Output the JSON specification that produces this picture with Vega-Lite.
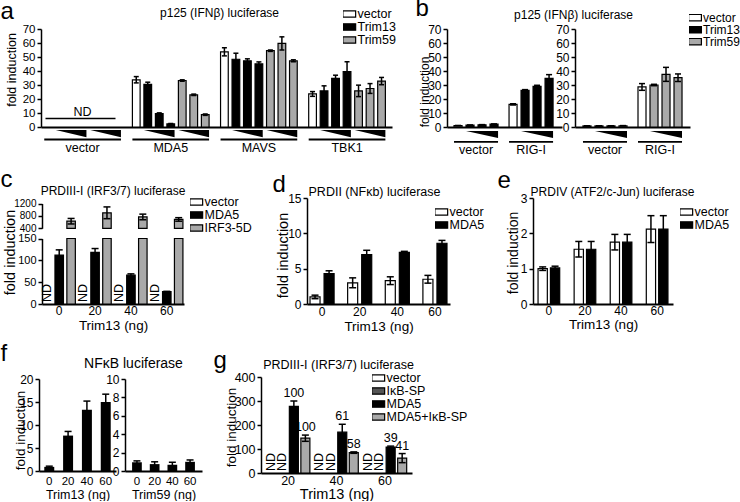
{
"$schema": "https://vega.github.io/schema/vega-lite/v6.json",
"background": "white",
"padding": {"left": 0, "top": -4, "right": 0, "bottom": 0},
"config": {
 "font": "Liberation Sans",
 "view": {"stroke": null},
 "axis": {"grid": false, "domainColor": "black", "domainWidth": 1.5, "tickColor": "black", "tickWidth": 1.5, "tickSize": 4, "labelColor": "black", "labelFontSize": 12, "titleColor": "black", "titleFontWeight": "normal", "titleFontSize": 12.5, "labelPadding": 2, "labelOverlap": false, "labelFlush": false},
 "legend": {"symbolType": "M-1.6,-0.8H1.6V0.8H-1.6Z", "symbolSize": 64, "symbolStrokeColor": "black", "symbolStrokeWidth": 1.2, "symbolOpacity": 1, "labelFontSize": 12.5, "labelColor": "black", "labelOffset": 2, "rowPadding": 0, "clipHeight": 10, "padding": 0},
 "title": {"color": "black", "fontWeight": "normal"}
},
"datasets": {
 "aBars": [
  {"grp":"MDA5","slot":"s1","trt":"vector","v":33.7,"lo":31.5,"hi":36},
  {"grp":"MDA5","slot":"s2","trt":"Trim13","v":30.5,"lo":29,"hi":32},
  {"grp":"MDA5","slot":"s3","trt":"Trim13","v":9.6,"lo":9.1,"hi":10.1},
  {"grp":"MDA5","slot":"s4","trt":"Trim13","v":2.2,"lo":1.9,"hi":2.5},
  {"grp":"MDA5","slot":"s5","trt":"Trim59","v":33.2,"lo":32.7,"hi":33.7},
  {"grp":"MDA5","slot":"s6","trt":"Trim59","v":23,"lo":22.5,"hi":23.5},
  {"grp":"MDA5","slot":"s7","trt":"Trim59","v":8.8,"lo":8.3,"hi":9.3},
  {"grp":"MAVS","slot":"s1","trt":"vector","v":53.7,"lo":50.8,"hi":56.6},
  {"grp":"MAVS","slot":"s2","trt":"Trim13","v":48.4,"lo":44.1,"hi":52.7},
  {"grp":"MAVS","slot":"s3","trt":"Trim13","v":47.3,"lo":45.9,"hi":48.7},
  {"grp":"MAVS","slot":"s4","trt":"Trim13","v":45.1,"lo":43.7,"hi":46.5},
  {"grp":"MAVS","slot":"s5","trt":"Trim59","v":54.5,"lo":54,"hi":55},
  {"grp":"MAVS","slot":"s6","trt":"Trim59","v":59.7,"lo":55,"hi":64.4},
  {"grp":"MAVS","slot":"s7","trt":"Trim59","v":47.3,"lo":46.6,"hi":48},
  {"grp":"TBK1","slot":"s1","trt":"vector","v":23.6,"lo":21.9,"hi":25.3},
  {"grp":"TBK1","slot":"s2","trt":"Trim13","v":25.8,"lo":22.2,"hi":29.4},
  {"grp":"TBK1","slot":"s3","trt":"Trim13","v":34.8,"lo":32.6,"hi":37},
  {"grp":"TBK1","slot":"s4","trt":"Trim13","v":39.6,"lo":32.6,"hi":46.6},
  {"grp":"TBK1","slot":"s5","trt":"Trim59","v":25.8,"lo":21.7,"hi":29.9},
  {"grp":"TBK1","slot":"s6","trt":"Trim59","v":27.5,"lo":24,"hi":31},
  {"grp":"TBK1","slot":"s7","trt":"Trim59","v":32.8,"lo":30.2,"hi":35.4}
 ],
 "aGroups": [{"grp":"vector"},{"grp":"MDA5"},{"grp":"MAVS"},{"grp":"TBK1"}],
 "aTri": [
  {"grp":"vector","slot":"s3"},{"grp":"vector","slot":"s6"},
  {"grp":"MDA5","slot":"s3"},{"grp":"MDA5","slot":"s6"},
  {"grp":"MAVS","slot":"s3"},{"grp":"MAVS","slot":"s6"},
  {"grp":"TBK1","slot":"s3"},{"grp":"TBK1","slot":"s6"}
 ],
 "bL": [
  {"grp":"vector","slot":"s1","trt":"vector","v":1.0,"lo":0.9,"hi":1.1},
  {"grp":"vector","slot":"s2","trt":"Trim13","v":1.3,"lo":1.2,"hi":1.4},
  {"grp":"vector","slot":"s3","trt":"Trim13","v":1.6,"lo":1.5,"hi":1.7},
  {"grp":"vector","slot":"s4","trt":"Trim13","v":2.0,"lo":1.8,"hi":2.2},
  {"grp":"RIG-I","slot":"s1","trt":"vector","v":16.2,"lo":15.8,"hi":16.6},
  {"grp":"RIG-I","slot":"s2","trt":"Trim13","v":26.2,"lo":25.7,"hi":26.7},
  {"grp":"RIG-I","slot":"s3","trt":"Trim13","v":29.0,"lo":28.2,"hi":29.8},
  {"grp":"RIG-I","slot":"s4","trt":"Trim13","v":34.8,"lo":32.2,"hi":37.4}
 ],
 "bR": [
  {"grp":"vector","slot":"s1","trt":"vector","v":0.8,"lo":0.7,"hi":0.9},
  {"grp":"vector","slot":"s2","trt":"Trim59","v":0.8,"lo":0.7,"hi":0.9},
  {"grp":"vector","slot":"s3","trt":"Trim59","v":0.8,"lo":0.7,"hi":0.9},
  {"grp":"vector","slot":"s4","trt":"Trim59","v":0.9,"lo":0.8,"hi":1.0},
  {"grp":"RIG-I","slot":"s1","trt":"vector","v":28.6,"lo":26.2,"hi":31},
  {"grp":"RIG-I","slot":"s2","trt":"Trim59","v":30,"lo":29.5,"hi":30.5},
  {"grp":"RIG-I","slot":"s3","trt":"Trim59","v":37.6,"lo":32.6,"hi":42.6},
  {"grp":"RIG-I","slot":"s4","trt":"Trim59","v":35.2,"lo":32.5,"hi":37.9}
 ],
 "bGroups": [{"grp":"vector"},{"grp":"RIG-I"}],
 "bTri": [{"grp":"vector","slot":"s3"},{"grp":"RIG-I","slot":"s3"}],
 "c": [
  {"ng":"0","trt":"MDA5","v":112,"lo":100,"hi":124},
  {"ng":"20","trt":"MDA5","v":118,"lo":109,"hi":127},
  {"ng":"40","trt":"MDA5","v":66,"lo":63,"hi":69},
  {"ng":"60","trt":"MDA5","v":28.5,"lo":28,"hi":29},
  {"ng":"0","trt":"IRF3-5D","v":629,"lo":540,"hi":718},
  {"ng":"20","trt":"IRF3-5D","v":900,"lo":710,"hi":1090},
  {"ng":"40","trt":"IRF3-5D","v":766,"lo":675,"hi":857},
  {"ng":"60","trt":"IRF3-5D","v":686,"lo":629,"hi":743}
 ],
 "cND": [
  {"ng":"0","trt":"vector","t":"ND"},{"ng":"20","trt":"vector","t":"ND"},
  {"ng":"40","trt":"vector","t":"ND"},{"ng":"60","trt":"vector","t":"ND"}
 ],
 "d": [
  {"ng":"0","trt":"vector","v":1.0,"lo":0.75,"hi":1.25},
  {"ng":"20","trt":"vector","v":3.0,"lo":2.3,"hi":3.7},
  {"ng":"40","trt":"vector","v":3.3,"lo":2.75,"hi":3.85},
  {"ng":"60","trt":"vector","v":3.5,"lo":2.95,"hi":4.05},
  {"ng":"0","trt":"MDA5","v":4.3,"lo":3.9,"hi":4.7},
  {"ng":"20","trt":"MDA5","v":7.0,"lo":6.4,"hi":7.6},
  {"ng":"40","trt":"MDA5","v":7.3,"lo":7.15,"hi":7.45},
  {"ng":"60","trt":"MDA5","v":8.6,"lo":8.2,"hi":9.0}
 ],
 "e": [
  {"ng":"0","trt":"vector","v":1.0,"lo":0.95,"hi":1.05},
  {"ng":"20","trt":"vector","v":1.55,"lo":1.33,"hi":1.77},
  {"ng":"40","trt":"vector","v":1.75,"lo":1.53,"hi":1.97},
  {"ng":"60","trt":"vector","v":2.12,"lo":1.74,"hi":2.5},
  {"ng":"0","trt":"MDA5","v":1.02,"lo":0.97,"hi":1.07},
  {"ng":"20","trt":"MDA5","v":1.55,"lo":1.33,"hi":1.77},
  {"ng":"40","trt":"MDA5","v":1.75,"lo":1.53,"hi":1.97},
  {"ng":"60","trt":"MDA5","v":2.12,"lo":1.74,"hi":2.5}
 ],
 "fL": [
  {"ng":"0","v":0.9,"lo":0.75,"hi":1.05},
  {"ng":"20","v":7.7,"lo":6.8,"hi":8.6},
  {"ng":"40","v":13.3,"lo":11.4,"hi":15.2},
  {"ng":"60","v":15.0,"lo":13.3,"hi":16.7}
 ],
 "fR": [
  {"ng":"0","v":0.95,"lo":0.8,"hi":1.1},
  {"ng":"20","v":0.75,"lo":0.5,"hi":1.0},
  {"ng":"40","v":0.68,"lo":0.4,"hi":0.95},
  {"ng":"60","v":1.0,"lo":0.8,"hi":1.2}
 ],
 "g": [
  {"ng":"20","trt":"MDA5","v":278,"lo":256,"hi":300,"lab":"100"},
  {"ng":"40","trt":"MDA5","v":170,"lo":137,"hi":203,"lab":"61"},
  {"ng":"60","trt":"MDA5","v":108,"lo":104,"hi":112,"lab":"39"},
  {"ng":"20","trt":"MDA5+IκB-SP","v":145,"lo":132,"hi":158,"lab":"100"},
  {"ng":"40","trt":"MDA5+IκB-SP","v":85,"lo":82,"hi":88,"lab":"58"},
  {"ng":"60","trt":"MDA5+IκB-SP","v":62,"lo":43,"hi":81,"lab":"41"}
 ],
 "gND": [
  {"ng":"20","trt":"vector","t":"ND"},{"ng":"20","trt":"IκB-SP","t":"ND"},
  {"ng":"40","trt":"vector","t":"ND"},{"ng":"40","trt":"IκB-SP","t":"ND"},
  {"ng":"60","trt":"vector","t":"ND"},{"ng":"60","trt":"IκB-SP","t":"ND"}
 ]
},
"bounds": "flush",
"spacing": 0,
"resolve": {"scale": {"fill": "independent", "x": "independent", "y": "independent", "xOffset": "independent"}, "legend": {"fill": "independent"}},
"vconcat": [
 {
  "bounds": "flush", "spacing": 0,
  "resolve": {"scale": {"fill": "independent", "x": "independent", "y": "independent", "xOffset": "independent"}, "legend": {"fill": "independent"}},
  "hconcat": [
   {"width": 3, "height": 1, "data": {"values": []}, "mark": "point"},
   {
    "width": 351, "height": 98,
    "layer": [
     {"data": {"name": "aBars"}, "mark": {"type": "bar", "stroke": "black", "strokeWidth": 1.2},
      "encoding": {
       "x": {"field": "grp", "type": "nominal", "sort": null, "scale": {"domain": ["vector","MDA5","MAVS","TBK1"], "paddingInner": 0.13, "paddingOuter": 0.056, "align": 0.33},
             "axis": {"orient": "bottom", "title": null, "ticks": false, "tickSize": 0, "labelPadding": 14, "labelAngle": 0, "labelFontSize": 12.5, "domainWidth": 1.8, "labelOverlap": false}},
       "xOffset": {"field": "slot", "type": "nominal", "sort": null, "scale": {"domain": ["s1","s2","s3","s4","s5","s6","s7"], "paddingInner": 0.33, "paddingOuter": 0}},
       "y": {"field": "v", "type": "quantitative", "scale": {"domain": [0, 70], "range": [98, 0], "nice": false},
             "axis": {"tickCount": 7, "zindex": 1, "labelBound": false, "labelOverlap": false, "labelFlush": false, "title": "fold induction", "titleX": -26, "titleY": 40.5, "titleAlign": "center", "titleBaseline": "alphabetic", "titleFontSize": 12.5, "labelFontSize": 11.5}},
       "fill": {"field": "trt", "type": "nominal", "scale": {"domain": ["vector","Trim13","Trim59"], "range": ["white","black","#a9a9a9"]}, "legend": {"title": null, "orient": "none", "legendX": 302, "legendY": -20, "labelFontSize": 12.5}}
      }},
     {"data": {"name": "aBars"}, "mark": {"type": "rule", "color": "black", "strokeWidth": 1.5},
      "encoding": {
       "x": {"field": "grp", "type": "nominal", "sort": null, "axis": {"orient": "top", "title": "a", "domain": false, "ticks": false, "labels": false, "titleX": -41, "titleY": -11, "titleAlign": "left", "titleBaseline": "alphabetic", "titleAngle": 0, "titleFontSize": 24}},
       "xOffset": {"field": "slot", "type": "nominal", "sort": null},
       "y": {"field": "lo", "type": "quantitative"},
       "y2": {"field": "hi"}
      }},
     {"data": {"name": "aBars"}, "mark": {"type": "tick", "orient": "horizontal", "color": "black", "thickness": 1.5, "size": 5, "opacity": 1},
      "encoding": {"x": {"field": "grp", "type": "nominal", "sort": null, "axis": {"orient": "top", "title": "p125 (IFNβ) luciferase", "domain": false, "ticks": false, "labels": false, "titleX": 178, "titleY": -13, "titleAlign": "center", "titleBaseline": "alphabetic", "titleAngle": 0, "titleFontSize": 12}},
        "xOffset": {"field": "slot", "type": "nominal", "sort": null}, "y": {"field": "hi", "type": "quantitative"}}},
     {"data": {"name": "aBars"}, "mark": {"type": "tick", "orient": "horizontal", "color": "black", "thickness": 1.5, "size": 5, "opacity": 1},
      "encoding": {"x": {"field": "grp", "type": "nominal", "sort": null, "axis": null}, "xOffset": {"field": "slot", "type": "nominal", "sort": null}, "y": {"field": "lo", "type": "quantitative"}}},
     {"data": {"name": "aGroups"}, "mark": {"type": "bar", "color": "black"},
      "encoding": {"x": {"field": "grp", "type": "nominal", "sort": null, "axis": null}, "y": {"datum": -8.3}, "y2": {"datum": -9.7}}},
     {"data": {"name": "aTri"}, "mark": {"type": "point", "shape": "M-1,0L1,0L1,0.48Z", "size": 940, "filled": true, "color": "black", "opacity": 1, "strokeWidth": 0},
      "encoding": {"x": {"field": "grp", "type": "nominal", "sort": null, "axis": {"orient": "top", "offset": -89, "domain": true, "domainColor": "black", "domainWidth": 1.3, "domainDash": [70, 400], "domainDashOffset": 466, "ticks": false, "labels": false, "title": "ND", "titleX": 41, "titleY": -3, "titleAlign": "center", "titleBaseline": "alphabetic", "titleAngle": 0, "titleFontSize": 12.5}},
       "xOffset": {"field": "slot", "type": "nominal", "sort": null}, "y": {"datum": -2.1}}}
    ]
   },
   {"width": 55, "height": 1, "data": {"values": []}, "mark": "point"},
   {
    "width": 115, "height": 98,
    "layer": [
     {"data": {"name": "bL"}, "mark": {"type": "bar", "stroke": "black", "strokeWidth": 1.2},
      "encoding": {
       "x": {"field": "grp", "type": "nominal", "sort": null, "scale": {"domain": ["vector","RIG-I"], "paddingInner": 0.2, "paddingOuter": 0.145, "align": 0.44},
             "axis": {"orient": "bottom", "title": null, "ticks": false, "tickSize": 0, "labelPadding": 16, "labelAngle": 0, "labelFontSize": 12.5, "domainWidth": 1.8, "labelOverlap": false}},
       "xOffset": {"field": "slot", "type": "nominal", "sort": null, "scale": {"domain": ["s1","s2","s3","s4"], "paddingInner": 0.333, "paddingOuter": 0}},
       "y": {"field": "v", "type": "quantitative", "scale": {"domain": [0, 70], "range": [98, 0], "nice": false},
             "axis": {"tickCount": 7, "labelOverlap": false, "labelFlush": false, "title": "fold induction", "titleX": -18.5, "titleY": 62.5, "titleAlign": "center", "titleBaseline": "alphabetic", "titleFontSize": 12, "labelFontSize": 12}},
       "fill": {"field": "trt", "type": "nominal", "scale": {"domain": ["vector","Trim13","Trim59"], "range": ["white","black","#a9a9a9"]}, "legend": null}
      }},
     {"data": {"name": "bL"}, "mark": {"type": "rule", "color": "black", "strokeWidth": 1.5},
      "encoding": {
       "x": {"field": "grp", "type": "nominal", "sort": null, "axis": {"orient": "top", "title": "b", "domain": false, "ticks": false, "labels": false, "titleX": -32, "titleY": -14, "titleAlign": "left", "titleBaseline": "alphabetic", "titleAngle": 0, "titleFontSize": 24}},
       "xOffset": {"field": "slot", "type": "nominal", "sort": null},
       "y": {"field": "lo", "type": "quantitative"},
       "y2": {"field": "hi"}
      }},
     {"data": {"name": "bL"}, "mark": {"type": "tick", "orient": "horizontal", "color": "black", "thickness": 1.5, "size": 6, "opacity": 1},
      "encoding": {"x": {"field": "grp", "type": "nominal", "sort": null, "axis": {"orient": "top", "title": "p125 (IFNβ) luciferase", "domain": false, "ticks": false, "labels": false, "titleX": 126, "titleY": -11, "titleAlign": "center", "titleBaseline": "alphabetic", "titleAngle": 0, "titleFontSize": 12}},
        "xOffset": {"field": "slot", "type": "nominal", "sort": null}, "y": {"field": "hi", "type": "quantitative"}}},
     {"data": {"name": "bL"}, "mark": {"type": "tick", "orient": "horizontal", "color": "black", "thickness": 1.5, "size": 6, "opacity": 1},
      "encoding": {"x": {"field": "grp", "type": "nominal", "sort": null, "axis": null}, "xOffset": {"field": "slot", "type": "nominal", "sort": null}, "y": {"field": "lo", "type": "quantitative"}}},
     {"data": {"name": "bGroups"}, "mark": {"type": "bar", "color": "black"},
      "encoding": {"x": {"field": "grp", "type": "nominal", "sort": null, "axis": null}, "y": {"datum": -10}, "y2": {"datum": -11.3}}},
     {"data": {"name": "bTri"}, "mark": {"type": "point", "shape": "M-1,0L1,0L1,0.44Z", "size": 1024, "filled": true, "color": "black", "opacity": 1, "strokeWidth": 0},
      "encoding": {"x": {"field": "grp", "type": "nominal", "sort": null, "axis": null}, "xOffset": {"field": "slot", "type": "nominal", "sort": null}, "y": {"datum": -2.86}}}
    ]
   },
   {"width": 13, "height": 1, "data": {"values": []}, "mark": "point"},
   {
    "width": 115, "height": 98,
    "layer": [
     {"data": {"name": "bR"}, "mark": {"type": "bar", "stroke": "black", "strokeWidth": 1.2},
      "encoding": {
       "x": {"field": "grp", "type": "nominal", "sort": null, "scale": {"domain": ["vector","RIG-I"], "paddingInner": 0.2, "paddingOuter": 0.145, "align": 0.5},
             "axis": {"orient": "bottom", "title": null, "ticks": false, "tickSize": 0, "labelPadding": 16, "labelAngle": 0, "labelFontSize": 12.5, "domainWidth": 1.8, "labelOverlap": false}},
       "xOffset": {"field": "slot", "type": "nominal", "sort": null, "scale": {"domain": ["s1","s2","s3","s4"], "paddingInner": 0.333, "paddingOuter": 0}},
       "y": {"field": "v", "type": "quantitative", "scale": {"domain": [0, 70], "range": [98, 0], "nice": false},
             "axis": {"tickCount": 7, "labelOverlap": false, "labelFlush": false, "title": null, "labelFontSize": 12}},
       "fill": {"field": "trt", "type": "nominal", "scale": {"domain": ["vector","Trim13","Trim59"], "range": ["white","black","#a9a9a9"]}, "legend": {"title": null, "orient": "none", "legendX": 114, "legendY": -16.3, "labelFontSize": 12}}
      }},
     {"data": {"name": "bR"}, "mark": {"type": "rule", "color": "black", "strokeWidth": 1.5},
      "encoding": {
       "x": {"field": "grp", "type": "nominal", "sort": null},
       "xOffset": {"field": "slot", "type": "nominal", "sort": null},
       "y": {"field": "lo", "type": "quantitative"},
       "y2": {"field": "hi"}
      }},
     {"data": {"name": "bR"}, "mark": {"type": "tick", "orient": "horizontal", "color": "black", "thickness": 1.5, "size": 6, "opacity": 1},
      "encoding": {"x": {"field": "grp", "type": "nominal", "sort": null}, "xOffset": {"field": "slot", "type": "nominal", "sort": null}, "y": {"field": "hi", "type": "quantitative"}}},
     {"data": {"name": "bR"}, "mark": {"type": "tick", "orient": "horizontal", "color": "black", "thickness": 1.5, "size": 6, "opacity": 1},
      "encoding": {"x": {"field": "grp", "type": "nominal", "sort": null}, "xOffset": {"field": "slot", "type": "nominal", "sort": null}, "y": {"field": "lo", "type": "quantitative"}}},
     {"data": {"name": "bGroups"}, "mark": {"type": "bar", "color": "black"},
      "encoding": {"x": {"field": "grp", "type": "nominal", "sort": null}, "y": {"datum": -10}, "y2": {"datum": -11.3}}},
     {"data": {"name": "bTri"}, "mark": {"type": "point", "shape": "M-1,0L1,0L1,0.44Z", "size": 1024, "filled": true, "color": "black", "opacity": 1, "strokeWidth": 0},
      "encoding": {"x": {"field": "grp", "type": "nominal", "sort": null}, "xOffset": {"field": "slot", "type": "nominal", "sort": null}, "y": {"datum": -2.86}}}
    ]
   }
  ]
 },
 {"width": 1, "height": 169, "data": {"values": []}, "mark": "point"},
 {
  "bounds": "flush", "spacing": 0,
  "resolve": {"scale": {"fill": "independent", "x": "independent", "y": "independent", "xOffset": "independent"}, "legend": {"fill": "independent"}},
  "hconcat": [
   {"width": 4, "height": 1, "data": {"values": []}, "mark": "point"},
   {
    "width": 142, "height": 106,
    "resolve": {"scale": {"y": "independent"}},
    "layer": [
     {"layer": [
      {"data": {"name": "c"}, "mark": {"type": "bar", "stroke": "black", "strokeWidth": 1.2},
       "encoding": {
        "x": {"field": "ng", "type": "nominal", "sort": null, "scale": {"domain": ["0","20","40","60"], "paddingInner": 0.1, "paddingOuter": 0.03},
              "axis": {"orient": "bottom", "title": "Trim13 (ng)", "ticks": false, "tickSize": 0, "labelPadding": 1, "titlePadding": 2, "labelAngle": 0, "labelFontSize": 12, "titleFontSize": 13.5, "domainWidth": 1.8, "labelOverlap": false}},
        "xOffset": {"field": "trt", "type": "nominal", "sort": null, "scale": {"domain": ["vector","MDA5","IRF3-5D"], "paddingInner": 0.286, "paddingOuter": 0}},
        "y": {"field": "v", "type": "quantitative", "scale": {"domain": [0, 150], "range": [106, 40.5], "clamp": true, "nice": false},
              "axis": {"orient": "left", "tickCount": 3, "labelOverlap": false, "labelFlush": false, "title": "fold induction", "titleX": -28, "titleY": 54, "titleAlign": "center", "titleBaseline": "alphabetic", "titleFontSize": 14.5, "labelFontSize": 11}},
        "fill": {"field": "trt", "type": "nominal", "scale": {"domain": ["vector","MDA5","IRF3-5D"], "range": ["white","black","#a9a9a9"]}, "legend": {"title": null, "orient": "none", "legendX": 148, "legendY": -1, "labelFontSize": 12.5}}
       }},
      {"data": {"name": "c"}, "transform": [{"filter": "datum.trt === 'MDA5'"}], "mark": {"type": "tick", "orient": "horizontal", "color": "black", "thickness": 1.5, "size": 7, "opacity": 1},
       "encoding": {"x": {"field": "ng", "type": "nominal", "sort": null, "axis": {"orient": "top", "title": "PRDIII-I (IRF3/7) luciferase", "domain": false, "ticks": false, "labels": false, "titleX": 70.5, "titleY": -4, "titleAlign": "center", "titleBaseline": "alphabetic", "titleAngle": 0, "titleFontSize": 12}},
        "xOffset": {"field": "trt", "type": "nominal", "sort": null}, "y": {"field": "hi", "type": "quantitative"}}},
      {"data": {"name": "c"}, "transform": [{"filter": "datum.trt === 'MDA5'"}], "mark": {"type": "rule", "color": "black", "strokeWidth": 1.5},
       "encoding": {"x": {"field": "ng", "type": "nominal", "sort": null, "axis": null}, "xOffset": {"field": "trt", "type": "nominal", "sort": null}, "y": {"field": "lo", "type": "quantitative"}, "y2": {"field": "hi"}}},
      {"data": {"name": "cND"}, "mark": {"type": "text", "angle": 270, "align": "left", "baseline": "middle", "dx": 2, "fontSize": 12.5, "color": "black"},
       "encoding": {"x": {"field": "ng", "type": "nominal", "sort": null, "axis": null}, "xOffset": {"field": "trt", "type": "nominal", "sort": null}, "y": {"datum": 0}, "text": {"field": "t"}}}
     ]},
     {"layer": [
      {"data": {"name": "c"}, "transform": [{"filter": "datum.trt === 'IRF3-5D'"}], "mark": {"type": "bar", "stroke": "black", "strokeWidth": 1.2, "fill": "#a9a9a9"},
       "encoding": {
        "x": {"field": "ng", "type": "nominal", "sort": null},
        "xOffset": {"field": "trt", "type": "nominal", "sort": null},
        "y": {"field": "v", "type": "quantitative", "scale": {"domain": [400, 1200], "range": [30.3, 5.5], "clamp": true, "nice": false, "zero": false},
              "axis": {"orient": "left", "values": [400,800,1200], "format": "d", "labelOverlap": false, "labelFlush": false, "title": null, "labelFontSize": 10}},
        "y2": {"datum": 400}
       }},
      {"data": {"name": "c"}, "transform": [{"filter": "datum.trt === 'IRF3-5D'"}], "mark": {"type": "rule", "color": "black", "strokeWidth": 1.5},
       "encoding": {
        "x": {"field": "ng", "type": "nominal", "sort": null, "axis": {"orient": "top", "title": "c", "domain": false, "ticks": false, "labels": false, "titleX": -42, "titleY": -12, "titleAlign": "left", "titleBaseline": "alphabetic", "titleAngle": 0, "titleFontSize": 24}},
        "xOffset": {"field": "trt", "type": "nominal", "sort": null},
        "y": {"field": "lo", "type": "quantitative"}, "y2": {"field": "hi"}}},
      {"data": {"name": "c"}, "transform": [{"filter": "datum.trt === 'IRF3-5D'"}], "mark": {"type": "tick", "orient": "horizontal", "color": "black", "thickness": 1.5, "size": 7, "opacity": 1},
       "encoding": {"x": {"field": "ng", "type": "nominal", "sort": null}, "xOffset": {"field": "trt", "type": "nominal", "sort": null}, "y": {"field": "hi", "type": "quantitative"}}},
      {"data": {"name": "c"}, "transform": [{"filter": "datum.trt === 'IRF3-5D'"}], "mark": {"type": "tick", "orient": "horizontal", "color": "black", "thickness": 1.5, "size": 7, "opacity": 1},
       "encoding": {"x": {"field": "ng", "type": "nominal", "sort": null}, "xOffset": {"field": "trt", "type": "nominal", "sort": null}, "y": {"field": "lo", "type": "quantitative"}}}
     ]}
    ]
   },
   {"width": 123, "height": 1, "data": {"values": []}, "mark": "point"},
   {
    "width": 143, "height": 106,
    "layer": [
     {"data": {"name": "d"}, "mark": {"type": "bar", "stroke": "black", "strokeWidth": 1.2},
      "encoding": {
       "x": {"field": "ng", "type": "nominal", "sort": null, "scale": {"domain": ["0","20","40","60"], "paddingInner": 0.36, "paddingOuter": 0.08},
             "axis": {"orient": "bottom", "title": "Trim13 (ng)", "ticks": false, "tickSize": 0, "labelPadding": 2, "titlePadding": 2, "labelAngle": 0, "labelFontSize": 12, "titleFontSize": 13.5, "domainWidth": 1.8, "labelOverlap": false}},
       "xOffset": {"field": "trt", "type": "nominal", "sort": null, "scale": {"domain": ["vector","MDA5"], "paddingInner": 0.286, "paddingOuter": 0}},
       "y": {"field": "v", "type": "quantitative", "scale": {"domain": [0, 15], "range": [106, 0], "nice": false},
             "axis": {"tickCount": 3, "labelOverlap": false, "labelFlush": false, "title": "fold induction", "titleX": -20, "titleY": 57, "titleAlign": "center", "titleBaseline": "alphabetic", "titleFontSize": 14.5, "labelFontSize": 12}},
       "fill": {"field": "trt", "type": "nominal", "scale": {"domain": ["vector","MDA5"], "range": ["white","black"]}, "legend": {"title": null, "orient": "none", "legendX": 128, "legendY": 9, "labelFontSize": 12.5}}
      }},
     {"data": {"name": "d"}, "mark": {"type": "rule", "color": "black", "strokeWidth": 1.5},
      "encoding": {
       "x": {"field": "ng", "type": "nominal", "sort": null, "axis": {"orient": "top", "title": "d", "domain": false, "ticks": false, "labels": false, "titleX": -35, "titleY": -7, "titleAlign": "left", "titleBaseline": "alphabetic", "titleAngle": 0, "titleFontSize": 24}},
       "xOffset": {"field": "trt", "type": "nominal", "sort": null},
       "y": {"field": "lo", "type": "quantitative"}, "y2": {"field": "hi"}}},
     {"data": {"name": "d"}, "mark": {"type": "tick", "orient": "horizontal", "color": "black", "thickness": 1.5, "size": 7, "opacity": 1},
      "encoding": {"x": {"field": "ng", "type": "nominal", "sort": null, "axis": {"orient": "top", "title": "PRDII (NFκb) luciferase", "domain": false, "ticks": false, "labels": false, "titleX": 67, "titleY": -2.5, "titleAlign": "center", "titleBaseline": "alphabetic", "titleAngle": 0, "titleFontSize": 12.5}},
       "xOffset": {"field": "trt", "type": "nominal", "sort": null}, "y": {"field": "hi", "type": "quantitative"}}},
     {"data": {"name": "d"}, "mark": {"type": "tick", "orient": "horizontal", "color": "black", "thickness": 1.5, "size": 7, "opacity": 1},
      "encoding": {"x": {"field": "ng", "type": "nominal", "sort": null, "axis": null}, "xOffset": {"field": "trt", "type": "nominal", "sort": null}, "y": {"field": "lo", "type": "quantitative"}}}
    ]
   },
   {"width": 83, "height": 1, "data": {"values": []}, "mark": "point"},
   {
    "width": 140, "height": 106,
    "layer": [
     {"data": {"name": "e"}, "mark": {"type": "bar", "stroke": "black", "strokeWidth": 1.2},
      "encoding": {
       "x": {"field": "ng", "type": "nominal", "sort": null, "scale": {"domain": ["0","20","40","60"], "paddingInner": 0.4, "paddingOuter": 0.14},
             "axis": {"orient": "bottom", "title": "Trim13 (ng)", "ticks": false, "tickSize": 0, "labelPadding": 1, "titlePadding": 1, "labelAngle": 0, "labelFontSize": 12, "titleFontSize": 13.5, "domainWidth": 1.8, "labelOverlap": false}},
       "xOffset": {"field": "trt", "type": "nominal", "sort": null, "scale": {"domain": ["vector","MDA5"], "paddingInner": 0.25, "paddingOuter": 0}},
       "y": {"field": "v", "type": "quantitative", "scale": {"domain": [0, 3], "range": [106, 0], "nice": false},
             "axis": {"tickCount": 3, "labelOverlap": false, "labelFlush": false, "title": "fold induction", "titleX": -16, "titleY": 54.5, "titleAlign": "center", "titleBaseline": "alphabetic", "titleFontSize": 14, "labelFontSize": 12}},
       "fill": {"field": "trt", "type": "nominal", "scale": {"domain": ["vector","MDA5"], "range": ["white","black"]}, "legend": {"title": null, "orient": "none", "legendX": 147, "legendY": 9, "labelFontSize": 12.5}}
      }},
     {"data": {"name": "e"}, "mark": {"type": "rule", "color": "black", "strokeWidth": 1.5},
      "encoding": {
       "x": {"field": "ng", "type": "nominal", "sort": null, "axis": {"orient": "top", "title": "e", "domain": false, "ticks": false, "labels": false, "titleX": -36, "titleY": -11, "titleAlign": "left", "titleBaseline": "alphabetic", "titleAngle": 0, "titleFontSize": 24}},
       "xOffset": {"field": "trt", "type": "nominal", "sort": null},
       "y": {"field": "lo", "type": "quantitative"}, "y2": {"field": "hi"}}},
     {"data": {"name": "e"}, "mark": {"type": "tick", "orient": "horizontal", "color": "black", "thickness": 1.5, "size": 7, "opacity": 1},
      "encoding": {"x": {"field": "ng", "type": "nominal", "sort": null, "axis": {"orient": "top", "title": "PRDIV (ATF2/c-Jun) luciferase", "domain": false, "ticks": false, "labels": false, "titleX": 79, "titleY": -2.5, "titleAlign": "center", "titleBaseline": "alphabetic", "titleAngle": 0, "titleFontSize": 12}},
       "xOffset": {"field": "trt", "type": "nominal", "sort": null}, "y": {"field": "hi", "type": "quantitative"}}},
     {"data": {"name": "e"}, "mark": {"type": "tick", "orient": "horizontal", "color": "black", "thickness": 1.5, "size": 7, "opacity": 1},
      "encoding": {"x": {"field": "ng", "type": "nominal", "sort": null, "axis": null}, "xOffset": {"field": "trt", "type": "nominal", "sort": null}, "y": {"field": "lo", "type": "quantitative"}}}
    ]
   }
  ]
 },
 {"width": 1, "height": 177, "data": {"values": []}, "mark": "point"},
 {
  "bounds": "flush", "spacing": 0,
  "resolve": {"scale": {"fill": "independent", "x": "independent", "y": "independent", "xOffset": "independent"}, "legend": {"fill": "independent"}},
  "hconcat": [
   {"width": 1, "height": 1, "data": {"values": []}, "mark": "point"},
   {
    "width": 77, "height": 96,
    "layer": [
     {"data": {"name": "fL"}, "mark": {"type": "bar", "color": "black"},
      "encoding": {
       "x": {"field": "ng", "type": "nominal", "sort": null, "scale": {"domain": ["0","20","40","60"], "paddingInner": 0.47, "paddingOuter": 0.28},
             "axis": {"orient": "bottom", "title": "Trim13 (ng)", "ticks": false, "tickSize": 0, "labelPadding": 4, "titlePadding": 2, "labelAngle": 0, "labelFontSize": 11.5, "titleFontSize": 12.5, "domainWidth": 1.8, "labelOverlap": false}},
       "y": {"field": "v", "type": "quantitative", "scale": {"domain": [0, 20], "range": [96, 4], "nice": false},
             "axis": {"tickCount": 4, "labelOverlap": false, "labelFlush": false, "title": "fold induction", "titleX": -15, "titleY": 55, "titleAlign": "center", "titleBaseline": "alphabetic", "titleFontSize": 13.5, "labelFontSize": 12}}
      }},
     {"data": {"name": "fL"}, "mark": {"type": "rule", "color": "black", "strokeWidth": 1.5},
      "encoding": {
       "x": {"field": "ng", "type": "nominal", "sort": null, "axis": {"orient": "top", "title": "f", "domain": false, "ticks": false, "labels": false, "titleX": -39, "titleY": -15, "titleAlign": "left", "titleBaseline": "alphabetic", "titleAngle": 0, "titleFontSize": 24}},
       "y": {"field": "lo", "type": "quantitative"}, "y2": {"field": "hi"}}},
     {"data": {"name": "fL"}, "mark": {"type": "tick", "orient": "horizontal", "color": "black", "thickness": 1.5, "size": 7, "opacity": 1},
      "encoding": {"x": {"field": "ng", "type": "nominal", "sort": null, "axis": {"orient": "top", "title": "NFκB luciferase", "domain": false, "ticks": false, "labels": false, "titleX": 94, "titleY": -7.5, "titleAlign": "center", "titleBaseline": "alphabetic", "titleAngle": 0, "titleFontSize": 14}},
       "y": {"field": "hi", "type": "quantitative"}}}
    ]
   },
   {"width": 9, "height": 1, "data": {"values": []}, "mark": "point"},
   {
    "width": 77, "height": 96,
    "layer": [
     {"data": {"name": "fR"}, "mark": {"type": "bar", "color": "black"},
      "encoding": {
       "x": {"field": "ng", "type": "nominal", "sort": null, "scale": {"domain": ["0","20","40","60"], "paddingInner": 0.45, "paddingOuter": 0.4},
             "axis": {"orient": "bottom", "title": "Trim59 (ng)", "ticks": false, "tickSize": 0, "labelPadding": 4, "titlePadding": 2, "labelAngle": 0, "labelFontSize": 11.5, "titleFontSize": 12.5, "domainWidth": 1.8, "labelOverlap": false}},
       "y": {"field": "v", "type": "quantitative", "scale": {"domain": [0, 10], "range": [96, 4], "nice": false},
             "axis": {"tickCount": 5, "labelOverlap": false, "labelFlush": false, "title": null, "labelFontSize": 12}}
      }},
     {"data": {"name": "fR"}, "mark": {"type": "rule", "color": "black", "strokeWidth": 1.5},
      "encoding": {"x": {"field": "ng", "type": "nominal", "sort": null}, "y": {"field": "lo", "type": "quantitative"}, "y2": {"field": "hi"}}},
     {"data": {"name": "fR"}, "mark": {"type": "tick", "orient": "horizontal", "color": "black", "thickness": 1.5, "size": 7, "opacity": 1},
      "encoding": {"x": {"field": "ng", "type": "nominal", "sort": null}, "y": {"field": "hi", "type": "quantitative"}}}
    ]
   },
   {"width": 59, "height": 1, "data": {"values": []}, "mark": "point"},
   {
    "width": 151, "height": 98,
    "layer": [
     {"data": {"name": "g"}, "mark": {"type": "bar", "stroke": "black", "strokeWidth": 1.2},
      "encoding": {
       "x": {"field": "ng", "type": "nominal", "sort": null, "scale": {"domain": ["20","40","60"], "paddingInner": 0.1, "paddingOuter": 0.11},
             "axis": {"orient": "bottom", "title": "Trim13 (ng)", "ticks": false, "tickSize": 0, "labelPadding": 1, "titlePadding": 1, "labelAngle": 0, "labelFontSize": 12.5, "titleFontSize": 14.5, "domainWidth": 1.8, "labelOverlap": false}},
       "xOffset": {"field": "trt", "type": "nominal", "sort": null, "scale": {"domain": ["vector","IκB-SP","MDA5","MDA5+IκB-SP"], "paddingInner": 0.217, "paddingOuter": 0}},
       "y": {"field": "v", "type": "quantitative", "scale": {"domain": [0, 400], "range": [98, 2], "nice": false},
             "axis": {"tickCount": 4, "labelOverlap": false, "labelFlush": false, "title": "fold induction", "titleX": -26, "titleY": 52, "titleAlign": "center", "titleBaseline": "alphabetic", "titleFontSize": 13.5, "labelFontSize": 12.5}},
       "fill": {"field": "trt", "type": "nominal", "scale": {"domain": ["vector","IκB-SP","MDA5","MDA5+IκB-SP"], "range": ["white","#555555","black","#a9a9a9"]}, "legend": {"title": null, "orient": "none", "legendX": 111, "legendY": -2, "labelFontSize": 12.5}}
      }},
     {"data": {"name": "g"}, "mark": {"type": "rule", "color": "black", "strokeWidth": 1.5},
      "encoding": {
       "x": {"field": "ng", "type": "nominal", "sort": null, "axis": {"orient": "top", "title": "g", "domain": false, "ticks": false, "labels": false, "titleX": -48, "titleY": -8, "titleAlign": "left", "titleBaseline": "alphabetic", "titleAngle": 0, "titleFontSize": 24}},
       "xOffset": {"field": "trt", "type": "nominal", "sort": null},
       "y": {"field": "lo", "type": "quantitative"}, "y2": {"field": "hi"}}},
     {"data": {"name": "g"}, "mark": {"type": "tick", "orient": "horizontal", "color": "black", "thickness": 1.5, "size": 7, "opacity": 1},
      "encoding": {"x": {"field": "ng", "type": "nominal", "sort": null, "axis": {"orient": "top", "title": "PRDIII-I (IRF3/7) luciferase", "domain": false, "ticks": false, "labels": false, "titleX": 77, "titleY": -6.5, "titleAlign": "center", "titleBaseline": "alphabetic", "titleAngle": 0, "titleFontSize": 12.5}},
       "xOffset": {"field": "trt", "type": "nominal", "sort": null}, "y": {"field": "hi", "type": "quantitative"}}},
     {"data": {"name": "g"}, "mark": {"type": "tick", "orient": "horizontal", "color": "black", "thickness": 1.5, "size": 7, "opacity": 1},
      "encoding": {"x": {"field": "ng", "type": "nominal", "sort": null, "axis": null}, "xOffset": {"field": "trt", "type": "nominal", "sort": null}, "y": {"field": "lo", "type": "quantitative"}}},
     {"data": {"name": "g"}, "mark": {"type": "text", "baseline": "bottom", "dy": -1, "fontSize": 12.5, "color": "black"},
      "encoding": {"x": {"field": "ng", "type": "nominal", "sort": null, "axis": null}, "xOffset": {"field": "trt", "type": "nominal", "sort": null}, "y": {"field": "hi", "type": "quantitative"}, "text": {"field": "lab"}}},
     {"data": {"name": "gND"}, "mark": {"type": "text", "angle": 270, "align": "left", "baseline": "middle", "dx": 2, "fontSize": 12.5, "color": "black"},
      "encoding": {"x": {"field": "ng", "type": "nominal", "sort": null, "axis": null}, "xOffset": {"field": "trt", "type": "nominal", "sort": null}, "y": {"datum": 0}, "text": {"field": "t"}}}
    ]
   }
  ]
 }
]
}
